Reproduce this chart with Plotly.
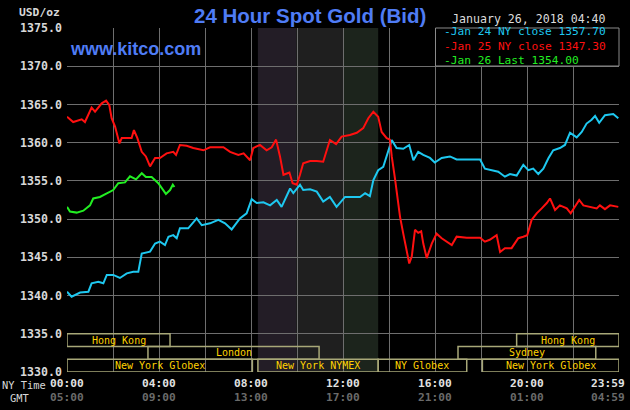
import plotly.graph_objects as go

# ---------------- data ----------------
jan24_h = [0, 0.2, 0.57, 0.93, 1.07, 1.36, 1.58, 1.73, 2.01, 2.3, 2.6, 2.88, 3.1, 3.25, 3.61, 3.83,
           4.04, 4.26, 4.41, 4.62, 4.77, 4.91, 5.27, 5.49, 5.64, 5.86, 6.22, 6.58, 6.87, 7.16, 7.52,
           7.81, 8.03, 8.25, 8.54, 8.83, 9.12, 9.33, 9.52, 9.7, 9.84, 10.13, 10.27, 10.57, 10.86,
           11.14, 11.43, 11.72, 12.09, 12.45, 12.74, 12.96, 13.17, 13.32, 13.53, 13.75, 13.93, 14.12,
           14.33, 14.62, 14.88, 15.06, 15.27, 15.49, 15.78, 15.99, 16.29, 16.65, 16.94, 17.38, 17.96,
           18.17, 18.46, 18.75, 19.04, 19.26, 19.55, 19.84, 20.06, 20.27, 20.49, 20.71, 20.93, 21.14,
           21.43, 21.65, 21.87, 22.16, 22.38, 22.59, 22.81, 22.96, 23.14, 23.39, 23.75, 23.97]
jan24_v = [1340.5, 1339.85, 1340.4, 1340.5, 1341.6, 1341.8, 1341.6, 1342.7, 1342.7, 1342.3, 1342.9,
           1343.1, 1343.1, 1345.5, 1345.75, 1346.8, 1347.05, 1346.6, 1347.7, 1347.9, 1347.5, 1348.8,
           1348.8, 1349.65, 1350.1, 1349.2, 1349.45, 1349.9, 1349.45, 1348.65, 1350.1, 1350.75,
           1352.6, 1352.1, 1352.2, 1351.8, 1352.5, 1351.6, 1352.9, 1354.0, 1353.4, 1354.5, 1353.8,
           1353.9, 1353.6, 1352.3, 1352.9, 1351.6, 1352.9, 1352.9, 1352.9, 1353.4, 1353.0, 1355.1,
           1356.4, 1356.85, 1358.6, 1360.35, 1359.3, 1359.2, 1359.7, 1357.7, 1358.8, 1358.4, 1358.0,
           1357.4, 1358.0, 1358.2, 1357.8, 1357.8, 1357.8, 1356.6, 1356.4, 1356.2, 1355.55, 1355.9,
           1355.7, 1357.1, 1356.4, 1356.6, 1355.9, 1356.6, 1357.95, 1359.0, 1359.3, 1359.7, 1361.3,
           1360.7, 1361.4, 1362.5, 1363.0, 1363.5, 1362.6, 1363.6, 1363.75, 1363.2]

jan25_h = [0, 0.27, 0.64, 0.78, 1.07, 1.22, 1.51, 1.7, 1.84, 1.94, 2.09, 2.28, 2.38, 2.67, 2.81, 2.91,
           3.06, 3.25, 3.43, 3.61, 3.83, 4.04, 4.33, 4.62, 4.74, 4.91, 5.2, 5.49, 5.93, 6.22, 6.8,
           7.09, 7.45, 7.68, 7.96, 8.1, 8.39, 8.68, 8.9, 9.09, 9.26, 9.41, 9.67, 9.81, 9.99, 10.13,
           10.27, 10.57, 10.86, 11.14, 11.43, 11.7, 11.94, 12.3, 12.6, 12.88, 13.1, 13.32, 13.53,
           13.68, 13.9, 14.04, 14.12, 14.26, 14.48, 14.62, 14.77, 14.88, 14.99, 15.13, 15.27, 15.4,
           15.49, 15.64, 15.86, 16.07, 16.29, 16.51, 16.73, 16.94, 17.38, 17.96, 18.17, 18.38, 18.68,
           18.83, 19.04, 19.33, 19.62, 19.84, 20.01, 20.2, 20.42, 20.64, 20.86, 21.0, 21.22, 21.43,
           21.73, 21.9, 22.09, 22.27, 22.45, 22.74, 23.03, 23.17, 23.39, 23.61, 23.97]
jan25_v = [1363.4, 1362.7, 1363.05, 1362.7, 1364.6, 1364.05, 1365.15, 1365.5, 1364.9, 1363.2, 1362.1,
           1359.9, 1360.6, 1360.6, 1360.6, 1361.65, 1360.6, 1358.8, 1358.2, 1356.9, 1358.0, 1358.0,
           1358.6, 1358.8, 1358.4, 1359.7, 1359.6, 1359.3, 1359.0, 1359.4, 1359.4, 1358.8, 1358.4,
           1358.6, 1357.7, 1359.3, 1359.7, 1359.0, 1359.4, 1360.4, 1358.2, 1355.8, 1356.1, 1354.7,
           1354.5, 1355.8, 1357.3, 1357.6, 1357.6, 1357.5, 1360.35, 1359.8, 1360.8, 1361.0, 1361.3,
           1361.9, 1363.2, 1364.05, 1363.4, 1361.4, 1360.6, 1360.4, 1358.2, 1355.3, 1350.3, 1348.1,
           1346.0, 1344.2, 1345.1, 1348.6, 1348.2, 1348.4, 1346.8, 1344.9, 1346.8, 1348.1, 1347.5,
           1347.05, 1346.6, 1347.7, 1347.55, 1347.55, 1347.05, 1347.3, 1347.9, 1345.7, 1346.2,
           1346.2, 1347.5, 1347.7, 1347.9, 1349.9, 1350.75, 1351.4, 1352.1, 1352.7, 1351.2, 1351.8,
           1351.4, 1350.75, 1351.6, 1352.5, 1351.8, 1351.6, 1351.4, 1351.8, 1351.3, 1351.8, 1351.6]

jan26_h = [0, 0.13, 0.42, 0.71, 1.0, 1.14, 1.43, 1.73, 2.01, 2.23, 2.52, 2.74, 3.0, 3.25, 3.43, 3.68,
           3.97, 4.3, 4.48, 4.6, 4.67]
jan26_v = [1351.6, 1351.0, 1350.85, 1351.1, 1351.8, 1352.7, 1352.9, 1353.4, 1353.8, 1354.7, 1354.8,
           1355.6, 1355.2, 1356.0, 1355.5, 1355.5, 1354.7, 1353.3, 1353.8, 1354.5, 1354.2]

legend_labels = ["Jan 24 NY close 1357.70", "Jan 25 NY close 1347.30", "Jan 26 Last 1354.00"]

y_ticks = [1330, 1335, 1340, 1345, 1350, 1355, 1360, 1365, 1370, 1375]
x_tick_hours = [0, 4, 8, 12, 16, 20, 24]
ny_tick_labels = ["00:00", "04:00", "08:00", "12:00", "16:00", "20:00", "23:59"]
gmt_tick_labels = ["05:00", "09:00", "13:00", "17:00", "21:00", "01:00", "04:59"]

# market sessions: name, start hour, end hour, row (0 = top)
session_names = ["Hong Kong", "London", "New York Globex", "New York NYMEX", "NY Globex",
                 "New York Globex", "Sydney", "Hong Kong"]
session_start = [0, 3.52, 0, 8.3, 13.53, 18.06, 17.0, 19.55]
session_end = [4.48, 10.96, 8.06, 13.53, 17.38, 24, 22.99, 24]
session_row = [0, 1, 2, 2, 2, 2, 1, 0]

# shaded periods (start, end)
shade_start = [8.3, 9.96, 12.0]
shade_end = [9.96, 12.0, 13.53]
shade_colors = ["#231d26", "#1f1f1f", "#1c241c"]

# ---------------- figure ----------------
CYAN, RED, GREEN = "#1ec8f0", "#ff1010", "#22ee22"
MONO = "DejaVu Sans Mono"
GRID = "#6e6e6e"

fig = go.Figure()
for hs, vs, col in [(jan24_h, jan24_v, CYAN), (jan25_h, jan25_v, RED), (jan26_h, jan26_v, GREEN)]:
    fig.add_trace(go.Scatter(x=hs, y=vs, mode="lines", line=dict(color=col, width=2, shape="linear"),
                             showlegend=False, hoverinfo="skip"))

shapes = []
for s, e, c in zip(shade_start, shade_end, shade_colors):
    shapes.append(dict(type="rect", xref="x", yref="y", x0=s, x1=e, y0=1330, y1=1375,
                       fillcolor=c, line=dict(width=0), layer="below"))

row_h = 5 / 3
annotations = []
for name, s, e, r in zip(session_names, session_start, session_end, session_row):
    y1 = 1335 - r * row_h
    y0 = y1 - row_h
    shapes.append(dict(type="rect", xref="x", yref="y", x0=s, x1=e, y0=y0, y1=y1,
                       line=dict(color="#a8a878", width=1.5), fillcolor="rgba(0,0,0,0)", layer="above"))
    annotations.append(dict(x=(s + e) / 2, y=(y0 + y1) / 2, xref="x", yref="y", text=name,
                            showarrow=False, font=dict(family=MONO, size=10, color="#ffd200"),
                            xanchor="center", yanchor="middle"))


def px(x, y):
    return (x - 67) / 552, (372 - y) / 344


# legend box
lx0, ly0 = px(435.5, 66)
shapes.append(dict(type="rect", xref="paper", yref="paper", x0=lx0, x1=1.0, y0=ly0, y1=1.0,
                   fillcolor="#000000", line=dict(color="#8a8a8a", width=1), layer="above"))
legend_text = "<br>".join("<span style='color:%s'>-%s</span>" % (c, lab)
                          for lab, c in zip(legend_labels, [CYAN, RED, GREEN]))
lxa, lya = px(442, 46.5)
annotations.append(dict(x=lxa, y=lya, xref="paper", yref="paper", text=legend_text, align="left",
                        showarrow=False, font=dict(family=MONO, size=11.2, color=CYAN),
                        xanchor="left", yanchor="middle"))

# x tick labels (two rows)
for h, ny, gmt in zip(x_tick_hours, ny_tick_labels, gmt_tick_labels):
    shift = -11 if h == 24 else 0
    annotations.append(dict(x=h, y=0, xref="x", yref="paper", text="<b>" + ny + "</b>", showarrow=False,
                            font=dict(family=MONO, size=11.2, color="#e2e2e2"), xanchor="center",
                            yanchor="middle", yshift=-11, xshift=shift))
    annotations.append(dict(x=h, y=0, xref="x", yref="paper", text="<b>" + gmt + "</b>", showarrow=False,
                            font=dict(family=MONO, size=11.2, color="#6a6a6a"), xanchor="center",
                            yanchor="middle", yshift=-25, xshift=shift))

page_texts = [
    ("24 Hour Spot Gold (Bid)", 310, 16, "center", dict(family="Liberation Sans", size=20.5, color="#4f7cf5"), True),
    ("www.kitco.com", 68, 49, "left", dict(family="Liberation Sans", size=18, color="#4f7cf5"), True),
    ("January 26, 2018 04:40", 608, 19, "right", dict(family=MONO, size=11.6, color="#dcdcdc"), False),
    ("USD/oz", 62, 13, "right", dict(family=MONO, size=11.3, color="#d8d8d8"), True),
    ("NY Time", 24, 385, "center", dict(family=MONO, size=10.4, color="#d8d8d8"), False),
    ("GMT", 20, 398, "center", dict(family=MONO, size=10.4, color="#d8d8d8"), False),
]
for t, x, y, anc, f, bold in page_texts:
    xp, yp = px(x, y)
    annotations.append(dict(x=xp, y=yp, xref="paper", yref="paper", text=("<b>%s</b>" % t) if bold else t,
                            showarrow=False, font=f, xanchor=anc, yanchor="middle"))

fig.update_layout(
    width=630, height=410,
    margin=dict(l=67, r=11, t=28, b=38),
    paper_bgcolor="#000000", plot_bgcolor="#000000",
    shapes=shapes, annotations=annotations,
    xaxis=dict(range=[0, 24], tickvals=list(range(0, 25, 2)), ticktext=[""] * 13,
               showgrid=True, gridcolor=GRID, gridwidth=1, zeroline=False, showline=False,
               ticks="", fixedrange=True),
    yaxis=dict(range=[1330, 1375], tickvals=y_ticks, ticktext=["<b>%.1f</b>" % v for v in y_ticks],
               showgrid=True, gridcolor=GRID, gridwidth=1, zeroline=False, showline=False, ticks="",
               tickfont=dict(family=MONO, size=11.6, color="#d8d8d8"), ticklabelstandoff=4,
               fixedrange=True),
    showlegend=False,
)

fig.write_html("out.html")
